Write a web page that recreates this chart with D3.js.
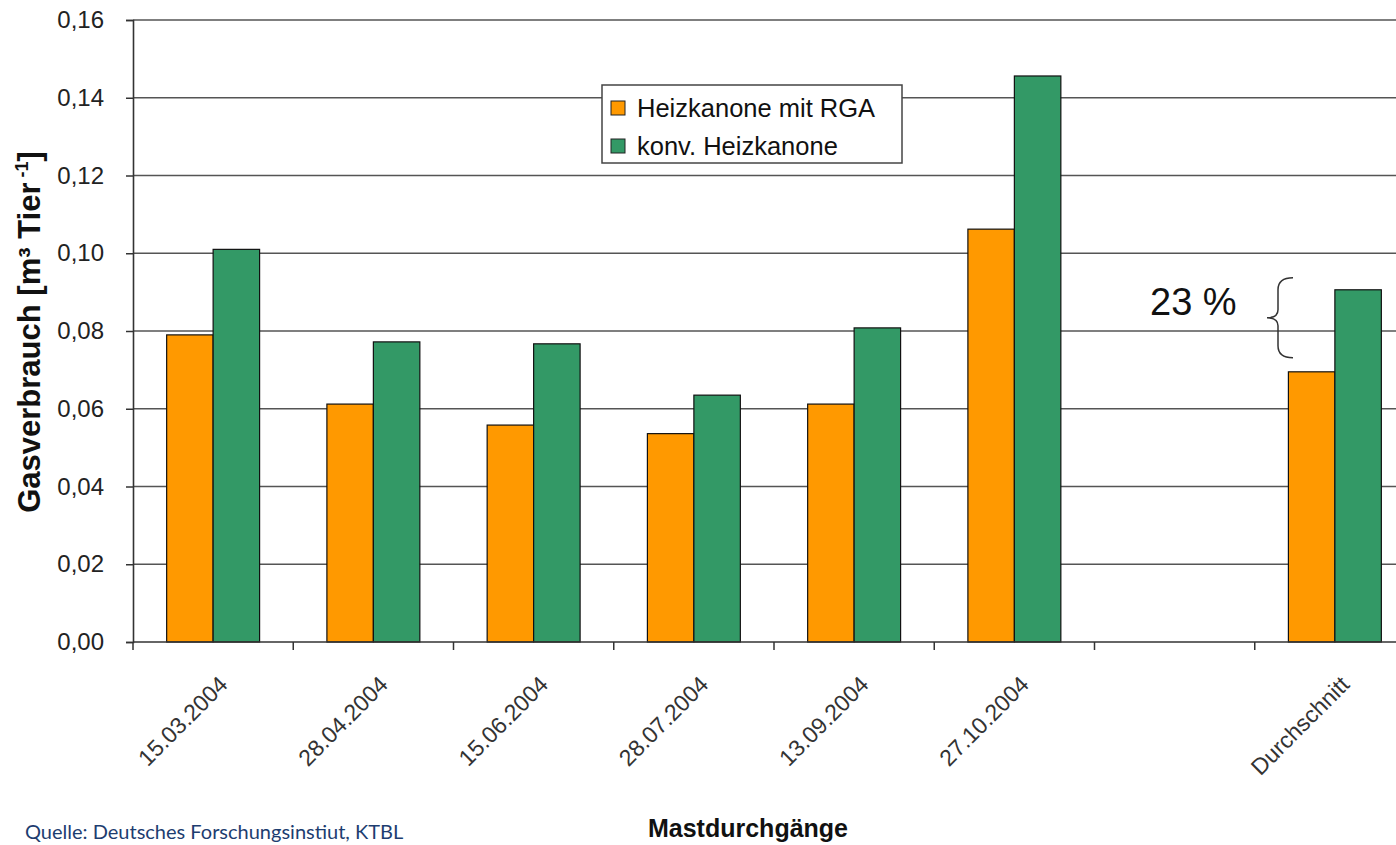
<!DOCTYPE html>
<html>
<head>
<meta charset="utf-8">
<script src="https://cdn.jsdelivr.net/npm/d3@7"></script>
<style>
  html, body { margin: 0; padding: 0; background: #ffffff; overflow: hidden; }
  svg { display: block; }
</style>
</head>
<body>
<svg id="chart" width="1396" height="845"></svg>
<script>
// ---- data ----
const categories = ["15.03.2004", "28.04.2004", "15.06.2004", "28.07.2004", "13.09.2004", "27.10.2004", "", "Durchschnitt"];
const seriesNames = ["Heizkanone mit RGA", "konv. Heizkanone"];
const rgaValues  = [0.079, 0.0612, 0.0558, 0.0536, 0.0612, 0.1062, null, 0.0695];
const konvValues = [0.101, 0.0772, 0.0767, 0.0635, 0.0808, 0.1456, null, 0.0906];
const seriesColors = ["#FF9900", "#339966"];
const yTicks = [0, 0.02, 0.04, 0.06, 0.08, 0.10, 0.12, 0.14, 0.16];
const yTickLabels = ["0,00", "0,02", "0,04", "0,06", "0,08", "0,10", "0,12", "0,14", "0,16"];
const yTitle = "Gasverbrauch";
const xTitle = "Mastdurchgänge";
const annotationText = "23 %";
const sourceText = "Quelle: Deutsches Forschungsinstiut, KTBL";

const seriesValues = [rgaValues, konvValues];

const svg = d3.select("#chart");
const plot = { left: 133, right: 1415, top: 20, bottom: 642 };

const x0 = d3.scaleBand().domain(categories.map((c, i) => i))
  .range([plot.left, plot.right]).paddingInner(0.42).paddingOuter(0.21);
const x1 = d3.scaleBand().domain(seriesNames).range([0, x0.bandwidth()]);
const y = d3.scaleLinear().domain([0, 0.16]).range([plot.bottom, plot.top]);

// gridlines
svg.append("g").selectAll("line").data(yTicks.filter(v => v > 0)).join("line")
  .attr("x1", plot.left).attr("x2", plot.right)
  .attr("y1", d => y(d)).attr("y2", d => y(d))
  .attr("stroke", "#555").attr("stroke-width", 1.6);

// bars
const groups = svg.append("g").selectAll("g").data(categories.map((c, i) => i)).join("g")
  .attr("transform", i => `translate(${x0(i)},0)`);
groups.selectAll("rect")
  .data(i => seriesNames.map((s, k) => ({ s, k, v: seriesValues[k][i] })).filter(d => d.v != null))
  .join("rect")
  .attr("x", d => x1(d.s)).attr("width", x1.bandwidth())
  .attr("y", d => y(d.v)).attr("height", d => y(0) - y(d.v))
  .attr("fill", d => seriesColors[d.k])
  .attr("stroke", "#111").attr("stroke-width", 1.2);

// y axis
const yAxis = d3.axisLeft(y).tickValues(yTicks)
  .tickFormat((d, i) => yTickLabels[i]).tickSize(7).tickPadding(22);
const gy = svg.append("g").attr("transform", `translate(${plot.left},0)`).call(yAxis);
gy.select(".domain").attr("stroke", "#333").attr("stroke-width", 1.6);
gy.selectAll(".tick line").attr("stroke", "#333").attr("stroke-width", 1.5);
gy.selectAll(".tick text").attr("font-family", "Liberation Sans, Arial, sans-serif")
  .attr("font-size", 24).attr("fill", "#222");

// x axis: ticks at category boundaries
const boundaryScale = d3.scaleLinear().domain([0, categories.length]).range([plot.left, plot.right]);
const bounds = d3.range(categories.length + 1);
const gx = svg.append("g");
gx.append("line").attr("x1", plot.left).attr("x2", plot.right)
  .attr("y1", y(0)).attr("y2", y(0)).attr("stroke", "#333").attr("stroke-width", 1.6);
gx.selectAll("line.tk").data(bounds).join("line").attr("class", "tk")
  .attr("x1", d => boundaryScale(d)).attr("x2", d => boundaryScale(d))
  .attr("y1", y(0)).attr("y2", y(0) + 8).attr("stroke", "#333").attr("stroke-width", 1.5);
gx.selectAll("text").data(categories.map((c, i) => ({ c, i })).filter(d => d.c !== "")).join("text")
  .attr("transform", d => `translate(${x0(d.i) + x0.bandwidth() / 2 + 16},${y(0) + 44}) rotate(-45)`)
  .attr("text-anchor", "end")
  .attr("font-family", "Liberation Sans, Arial, sans-serif")
  .attr("font-size", 23).attr("fill", "#333")
  .text(d => d.c);

// y title
const yt = svg.append("text")
  .attr("transform", `translate(40,${332}) rotate(-90)`)
  .attr("text-anchor", "middle")
  .attr("font-family", "Liberation Sans, Arial, sans-serif")
  .attr("font-weight", "bold").attr("font-size", 31).attr("fill", "#111");
yt.append("tspan").text(yTitle + " [m³ Tier");
yt.append("tspan").attr("dy", -12).attr("font-size", 18).text(" -1");
yt.append("tspan").attr("dy", 12).text("]");

// x title
svg.append("text")
  .attr("x", 748).attr("y", 837).attr("text-anchor", "middle")
  .attr("font-family", "Liberation Sans, Arial, sans-serif")
  .attr("font-weight", "bold").attr("font-size", 25).attr("fill", "#111")
  .text(xTitle);

// legend
const lg = svg.append("g").attr("transform", "translate(602,85)");
lg.append("rect").attr("width", 300).attr("height", 78)
  .attr("fill", "#fff").attr("stroke", "#444").attr("stroke-width", 1.5);
seriesNames.forEach((s, k) => {
  lg.append("rect").attr("x", 9).attr("y", 16 + k * 38).attr("width", 14).attr("height", 14)
    .attr("fill", seriesColors[k]).attr("stroke", "#222").attr("stroke-width", 1);
  lg.append("text").attr("x", 35).attr("y", 32 + k * 38)
    .attr("font-family", "Liberation Sans, Arial, sans-serif")
    .attr("font-size", 25.5).attr("fill", "#111").text(s);
});

// annotation: 23 % with brace between the Durchschnitt values
const di = categories.length - 1;
const yTop = y(konvValues[di]) - 12, yBot = y(rgaValues[di]) - 14;
const bx = 1278, ym = (yTop + yBot) / 2;
const brace = d3.path();
brace.moveTo(bx + 15, yTop);
brace.quadraticCurveTo(bx, yTop, bx, yTop + 12);
brace.lineTo(bx, ym - 8);
brace.quadraticCurveTo(bx, ym, bx - 11, ym);
brace.quadraticCurveTo(bx, ym, bx, ym + 8);
brace.lineTo(bx, yBot - 12);
brace.quadraticCurveTo(bx, yBot, bx + 15, yBot);
svg.append("path").attr("d", brace.toString()).attr("fill", "none")
  .attr("stroke", "#333").attr("stroke-width", 1.5);
svg.append("text").attr("x", 1150).attr("y", 315)
  .attr("font-family", "Liberation Sans, Arial, sans-serif")
  .attr("font-size", 38).attr("fill", "#111").text(annotationText);

// source
svg.append("text").attr("x", 25).attr("y", 839)
  .attr("font-family", "Lato, 'Noto Sans', sans-serif")
  .attr("font-size", 20).attr("fill", "#1d3d70").text(sourceText);
</script>
</body>
</html>
